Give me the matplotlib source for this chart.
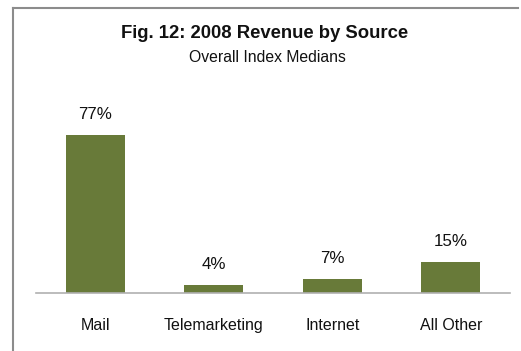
import matplotlib
matplotlib.use('Agg')
import matplotlib.pyplot as plt
from matplotlib.lines import Line2D

plt.rcParams.update({'font.family': 'Liberation Sans'})

sources = ['Mail', 'Telemarketing', 'Internet', 'All Other']
share = [77, 4, 7, 15]

W, H = 521, 351
fig = plt.figure(figsize=(W / 100, H / 100), dpi=100)

# outer frame: only the left and top edges fall inside the canvas
fx, fy = 13 / W, (H - 7.5) / H
frame = dict(transform=fig.transFigure, color='#8C8C8C', lw=1.5,
             solid_capstyle='projecting')
fig.add_artist(Line2D([fx, fx], [0.0, fy], **frame))
fig.add_artist(Line2D([fx, 0.995], [fy, fy], **frame))

ax = fig.add_axes([36 / W, (H - 293) / H, 474 / W, 193 / H])
x = range(len(sources))
ax.bar(x, share, width=0.5, color='#687A39', zorder=2)
for i, v in zip(x, share):
    ax.annotate(f'{v}%', xy=(i, v), xytext=(0, 11.5), textcoords='offset points',
                ha='center', va='baseline', fontsize=12.2, color='#111111')

ax.set_xlim(-0.5, 3.5)
ax.set_ylim(0, 94.05)
ax.set_xticks(list(x), sources, fontsize=11.5, color='#111111')
ax.tick_params(axis='x', length=0, pad=18)
ax.set_yticks([])
for s in ['top', 'right', 'left']:
    ax.spines[s].set_visible(False)
ax.spines['bottom'].set_color('#B0B0B0')
ax.spines['bottom'].set_linewidth(1.2)
ax.patch.set_alpha(0)

fig.text(265 / W, (H - 37.7) / H, 'Fig. 12: 2008 Revenue by Source',
         ha='center', va='baseline', fontsize=13.3, fontweight='bold', color='#111111')
fig.text(267 / W, (H - 61.7) / H, 'Overall Index Medians',
         ha='center', va='baseline', fontsize=11.3, color='#111111')

fig.savefig('out.png', dpi=100)
